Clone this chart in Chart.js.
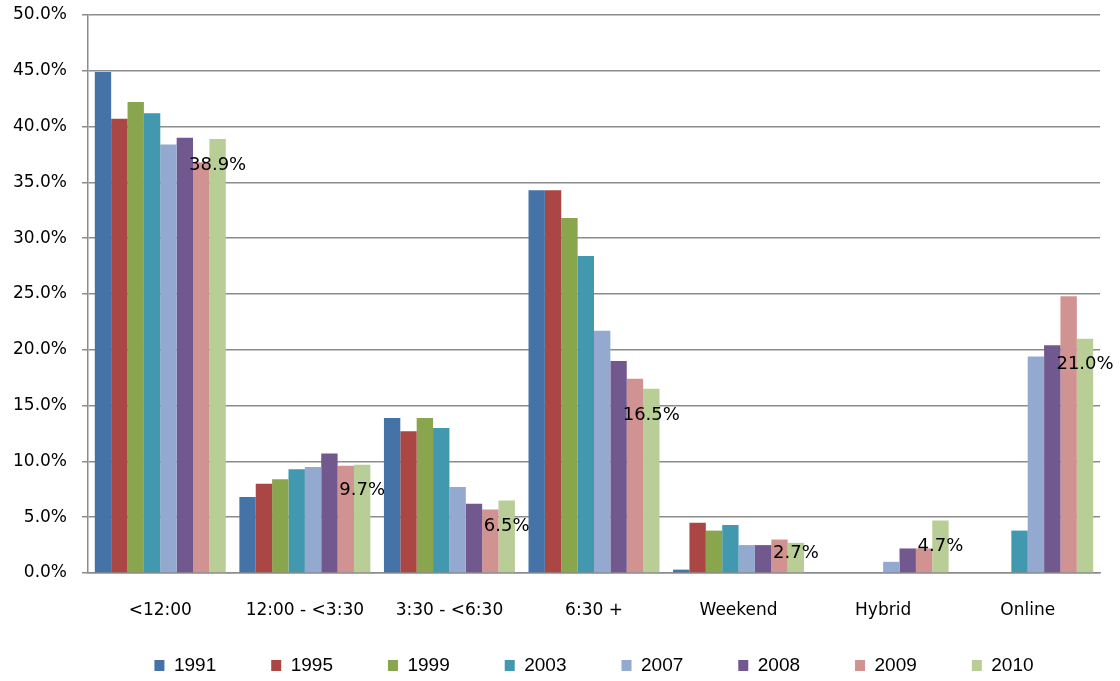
<!DOCTYPE html>
<html>
<head>
<meta charset="utf-8">
<script src="https://cdn.jsdelivr.net/npm/chart.js@4.4.0/dist/chart.umd.min.js"></script>
<style>
  html, body { margin: 0; padding: 0; background: #fff; }
</style>
</head>
<body>
<canvas id="myChart" width="1120" height="681"></canvas>
<script>
var categories = ['<12:00', '12:00 - <3:30', '3:30 - <6:30', '6:30 +', 'Weekend', 'Hybrid', 'Online'];
var years = ['1991', '1995', '1999', '2003', '2007', '2008', '2009', '2010'];
var colors = ['#4572A7', '#AA4643', '#89A54E', '#4198AF', '#93A9CF', '#71588F', '#D19392', '#B9CD96'];

var v1991 = [44.9, 6.8, 13.9, 34.3, 0.3, null, null];
var v1995 = [40.7, 8.0, 12.7, 34.3, 4.5, null, null];
var v1999 = [42.2, 8.4, 13.9, 31.8, 3.8, null, null];
var v2003 = [41.2, 9.3, 13.0, 28.4, 4.3, null, 3.8];
var v2007 = [38.4, 9.5, 7.7, 21.7, 2.5, 1.0, 19.4];
var v2008 = [39.0, 10.7, 6.2, 19.0, 2.5, 2.2, 20.4];
var v2009 = [36.8, 9.6, 5.7, 17.4, 3.0, 2.2, 24.8];
var v2010 = [38.9, 9.7, 6.5, 16.5, 2.7, 4.7, 21.0];

var series = [v1991, v1995, v1999, v2003, v2007, v2008, v2009, v2010];

// labels on the 2010 bars
var barLabels = {
  id: 'barLabels',
  afterDatasetsDraw: function(chart) {
    var ctx = chart.ctx;
    var meta = chart.getDatasetMeta(7);
    var bottom = chart.chartArea.bottom;
    ctx.save();
    ctx.font = '18px "DejaVu Sans"';
    ctx.fillStyle = '#000';
    ctx.textAlign = 'center';
    ctx.textBaseline = 'middle';
    meta.data.forEach(function(bar, i) {
      var v = v2010[i];
      if (v == null) return;
      var y = Math.min(bar.y + 26, bottom - 20);
      ctx.fillText(v.toFixed(1) + '%', bar.x, y);
    });
    ctx.restore();
  }
};

var ctx = document.getElementById('myChart').getContext('2d');
var myChart = new Chart(ctx, {
  type: 'bar',
  data: {
    labels: categories,
    datasets: years.map(function(y, i) {
      return {
        label: y,
        data: series[i],
        backgroundColor: colors[i],
        borderWidth: 0,
        categoryPercentage: 0.906,
        barPercentage: 1.0
      };
    })
  },
  options: {
    responsive: false,
    animation: false,
    layout: { padding: { top: 0, right: 20, bottom: -4, left: 0 } },
    plugins: {
      tooltip: { enabled: false },
      legend: {
        position: 'bottom',
        fullSize: false,
        labels: {
          boxWidth: 10,
          boxHeight: 11,
          padding: 36,
          color: '#000',
          font: { family: '"Liberation Sans"', size: 19 },
          // widen each entry (except the last) so they spread like the original
          generateLabels: function(chart) {
            var items = Chart.defaults.plugins.legend.labels.generateLabels(chart);
            items.forEach(function(it, i) {
              if (i < items.length - 1) it.text = it.text + '\u2002\u2002';
            });
            return items;
          }
        }
      }
    },
    scales: {
      x: {
        grid: { display: false, drawTicks: false },
        border: { display: true, color: '#8c8c8c', width: 1.5 },
        ticks: {
          color: '#000',
          padding: 27,
          font: { family: '"DejaVu Sans"', size: 17 }
        },
        afterFit: function(scale) { scale.height = 47; }
      },
      y: {
        min: 0,
        max: 50,
        grid: { color: '#8c8c8c', lineWidth: 1.5, tickLength: 6 },
        border: { display: true, color: '#8c8c8c', width: 1.5 },
        ticks: {
          stepSize: 5,
          color: '#000',
          padding: 15,
          font: { family: '"DejaVu Sans"', size: 17 },
          callback: function(v) { return v.toFixed(1) + '%'; }
        },
        afterFit: function(scale) {
          scale.width = 88;
          scale.paddingTop = 15;
          scale.paddingBottom = 10;
        }
      }
    }
  },
  plugins: [barLabels]
});
</script>
</body>
</html>
